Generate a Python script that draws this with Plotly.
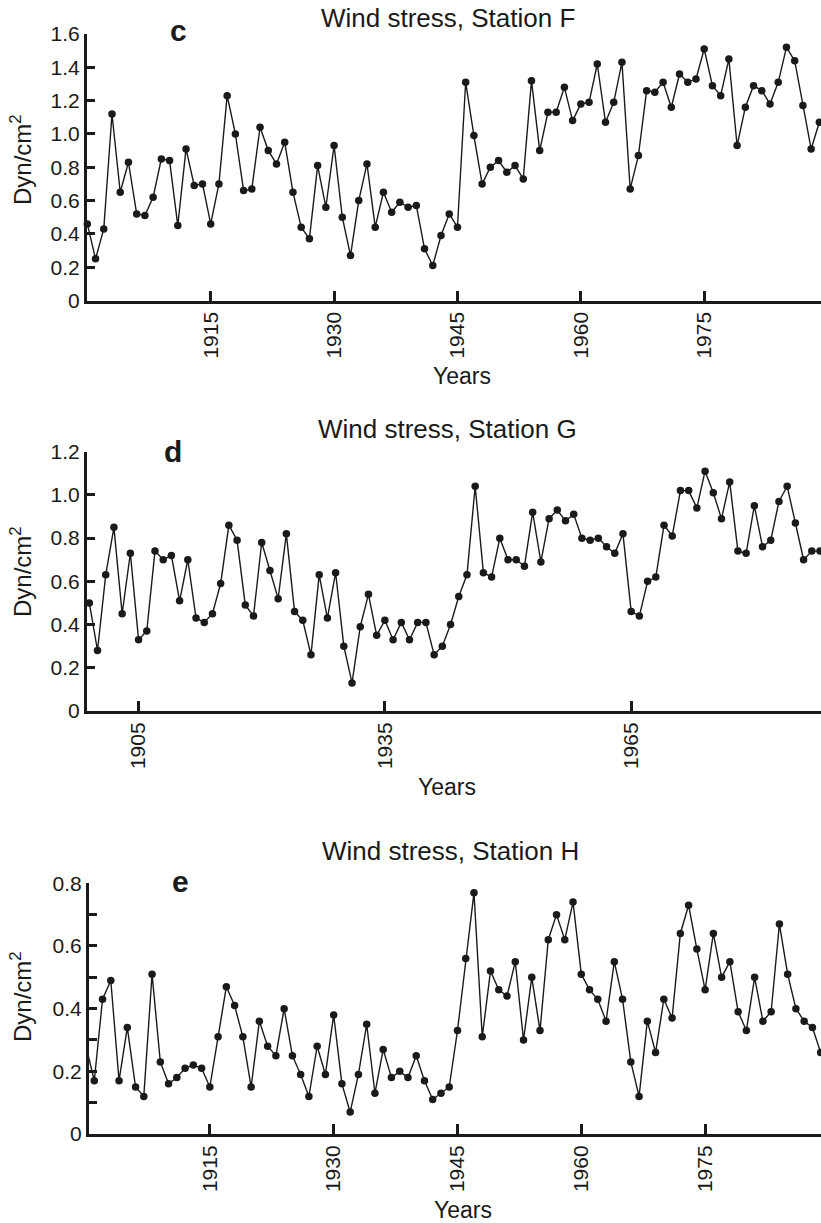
import plotly.graph_objects as go

# ---------------- data ----------------
years_f = list(range(1900, 1990))
stress_f = [0.46, 0.25, 0.43, 1.12, 0.65, 0.83, 0.52, 0.51, 0.62, 0.85,
            0.84, 0.45, 0.91, 0.69, 0.70, 0.46, 0.70, 1.23, 1.00, 0.66,
            0.67, 1.04, 0.90, 0.82, 0.95, 0.65, 0.44, 0.37, 0.81, 0.56,
            0.93, 0.50, 0.27, 0.60, 0.82, 0.44, 0.65, 0.53, 0.59, 0.56,
            0.57, 0.31, 0.21, 0.39, 0.52, 0.44, 1.31, 0.99, 0.70, 0.80,
            0.84, 0.77, 0.81, 0.73, 1.32, 0.90, 1.13, 1.13, 1.28, 1.08,
            1.18, 1.19, 1.42, 1.07, 1.19, 1.43, 0.67, 0.87, 1.26, 1.25,
            1.31, 1.16, 1.36, 1.31, 1.33, 1.51, 1.29, 1.23, 1.45, 0.93,
            1.16, 1.29, 1.26, 1.18, 1.31, 1.52, 1.44, 1.17, 0.91, 1.07]

years_g = list(range(1899, 1989))
stress_g = [0.50, 0.28, 0.63, 0.85, 0.45, 0.73, 0.33, 0.37, 0.74, 0.70,
            0.72, 0.51, 0.70, 0.43, 0.41, 0.45, 0.59, 0.86, 0.79, 0.49,
            0.44, 0.78, 0.65, 0.52, 0.82, 0.46, 0.42, 0.26, 0.63, 0.43,
            0.64, 0.30, 0.13, 0.39, 0.54, 0.35, 0.42, 0.33, 0.41, 0.33,
            0.41, 0.41, 0.26, 0.30, 0.40, 0.53, 0.63, 1.04, 0.64, 0.62,
            0.80, 0.70, 0.70, 0.67, 0.92, 0.69, 0.89, 0.93, 0.88, 0.91,
            0.80, 0.79, 0.80, 0.76, 0.73, 0.82, 0.46, 0.44, 0.60, 0.62,
            0.86, 0.81, 1.02, 1.02, 0.94, 1.11, 1.01, 0.89, 1.06, 0.74,
            0.73, 0.95, 0.76, 0.79, 0.97, 1.04, 0.87, 0.70, 0.74, 0.74]

years_h = list(range(1900, 1990))
stress_h = [0.28, 0.17, 0.43, 0.49, 0.17, 0.34, 0.15, 0.12, 0.51, 0.23,
            0.16, 0.18, 0.21, 0.22, 0.21, 0.15, 0.31, 0.47, 0.41, 0.31,
            0.15, 0.36, 0.28, 0.25, 0.40, 0.25, 0.19, 0.12, 0.28, 0.19,
            0.38, 0.16, 0.07, 0.19, 0.35, 0.13, 0.27, 0.18, 0.20, 0.18,
            0.25, 0.17, 0.11, 0.13, 0.15, 0.33, 0.56, 0.77, 0.31, 0.52,
            0.46, 0.44, 0.55, 0.30, 0.50, 0.33, 0.62, 0.70, 0.62, 0.74,
            0.51, 0.46, 0.43, 0.36, 0.55, 0.43, 0.23, 0.12, 0.36, 0.26,
            0.43, 0.37, 0.64, 0.73, 0.59, 0.46, 0.64, 0.50, 0.55, 0.39,
            0.33, 0.50, 0.36, 0.39, 0.67, 0.51, 0.40, 0.36, 0.34, 0.26]

xticks_f = [1915, 1930, 1945, 1960, 1975]
xticks_g = [1905, 1935, 1965]
xticks_h = [1915, 1930, 1945, 1960, 1975]
yticks_f = [0, 0.2, 0.4, 0.6, 0.8, 1.0, 1.2, 1.4, 1.6]
ylabels_f = ["0", "0.2", "0.4", "0.6", "0.8", "1.0", "1.2", "1.4", "1.6"]
yticks_g = [0, 0.2, 0.4, 0.6, 0.8, 1.0, 1.2]
ylabels_g = ["0", "0.2", "0.4", "0.6", "0.8", "1.0", "1.2"]
yticks_h = [0, 0.2, 0.4, 0.6, 0.8]
ylabels_h = ["0", "0.2", "0.4", "0.6", "0.8"]
yminor_h = [0.1, 0.3, 0.5, 0.7]

titles = ["Wind stress, Station F", "Wind stress, Station G", "Wind stress, Station H"]
letters = ["c", "d", "e"]

# ---------------- layout geometry (pixels) ----------------
W, H = 821, 1223
FONT = "Liberation Sans, Arial, Helvetica, sans-serif"
INK = "#1a1a1a"


def px_x(x):
    return x / W


def px_y(y):
    return 1 - y / H


panels = [
    dict(x=years_f, y=stress_f, xt=xticks_f, yt=yticks_f, yl=ylabels_f, yminor=None,
         xdom=(87, 821), ydom=(34, 300.5), xr=(1899.96, 1989.2), yr=(0, 1.6),
         title_xy=(448, 18), letter_xy=(178, 30), years_xy=(462, 376), ytitle_xy=(21, 160)),
    dict(x=years_g, y=stress_g, xt=xticks_g, yt=yticks_g, yl=ylabels_g, yminor=None,
         xdom=(87, 821), ydom=(451.7, 711), xr=(1898.72, 1988.12), yr=(0, 1.2),
         title_xy=(447, 429), letter_xy=(173, 452), years_xy=(447, 787), ytitle_xy=(21, 572)),
    dict(x=years_h, y=stress_h, xt=xticks_h, yt=yticks_h, yl=ylabels_h, yminor=yminor_h,
         xdom=(89, 821), ydom=(883.3, 1134), xr=(1900.36, 1989.04), yr=(0, 0.8),
         title_xy=(450, 851), letter_xy=(180, 881), years_xy=(463, 1210), ytitle_xy=(21, 997)),
]

fig = go.Figure()
annotations = []
layout_axes = {}

for i, p in enumerate(panels):
    n = "" if i == 0 else str(i + 1)
    fig.add_trace(go.Scatter(
        x=p["x"], y=p["y"], mode="lines+markers",
        line=dict(color=INK, width=1.4),
        marker=dict(color=INK, size=7.5),
        cliponaxis=False, showlegend=False,
        xaxis="x" + n, yaxis="y" + n,
    ))
    layout_axes["xaxis" + n] = dict(
        domain=[px_x(p["xdom"][0]), px_x(p["xdom"][1])],
        range=list(p["xr"]), anchor="y" + n,
        showline=True, linewidth=3, linecolor=INK,
        showgrid=False, zeroline=False,
        ticks="inside", ticklen=10, tickwidth=2.5, tickcolor=INK,
        tickvals=p["xt"], ticktext=[str(v) for v in p["xt"]],
        tickangle=-90, tickfont=dict(family=FONT, size=21, color=INK),
        automargin=False,
    )
    yax = dict(
        domain=[px_y(p["ydom"][1]), px_y(p["ydom"][0])],
        range=list(p["yr"]), anchor="x" + n,
        showline=True, linewidth=3, linecolor=INK,
        showgrid=False, zeroline=False,
        ticks="inside", ticklen=8, tickwidth=2.5, tickcolor=INK,
        tickvals=p["yt"], ticktext=p["yl"],
        tickfont=dict(family=FONT, size=21, color=INK),
        automargin=False,
    )
    if p["yminor"]:
        yax["minor"] = dict(tickvals=p["yminor"], ticks="inside", ticklen=8,
                            tickwidth=2.5, tickcolor=INK)
    layout_axes["yaxis" + n] = yax

    tx, ty = p["title_xy"]
    annotations.append(dict(text=titles[i], x=px_x(tx), y=px_y(ty), xref="paper", yref="paper",
                            showarrow=False, xanchor="center", yanchor="middle",
                            font=dict(family=FONT, size=26, color=INK)))
    lx, ly = p["letter_xy"]
    annotations.append(dict(text="<b>%s</b>" % letters[i], x=px_x(lx), y=px_y(ly), xref="paper",
                            yref="paper", showarrow=False, xanchor="center", yanchor="middle",
                            font=dict(family=FONT, size=30, color=INK)))
    yx, yy = p["years_xy"]
    annotations.append(dict(text="Years", x=px_x(yx), y=px_y(yy), xref="paper", yref="paper",
                            showarrow=False, xanchor="center", yanchor="middle",
                            font=dict(family=FONT, size=23, color=INK)))
    ax_, ay_ = p["ytitle_xy"]
    annotations.append(dict(text="Dyn/cm<sup>2</sup>", x=px_x(ax_), y=px_y(ay_), xref="paper",
                            yref="paper", showarrow=False, xanchor="center", yanchor="middle",
                            textangle=-90, font=dict(family=FONT, size=24, color=INK)))

fig.update_layout(
    width=W, height=H,
    margin=dict(l=0, r=0, t=0, b=0),
    paper_bgcolor="white", plot_bgcolor="white",
    showlegend=False,
    annotations=annotations,
    **layout_axes,
)

fig.write_html("out.html")
